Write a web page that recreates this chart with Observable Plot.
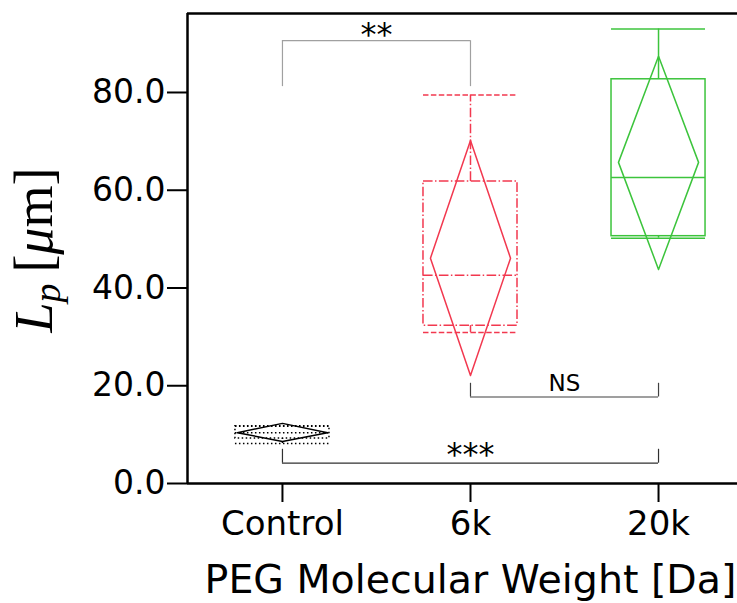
<!DOCTYPE html>
<html>
<head>
<meta charset="utf-8">
<script src="https://cdn.jsdelivr.net/npm/d3@7"></script>
<script src="https://cdn.jsdelivr.net/npm/@observablehq/plot@0.6"></script>
<style>
  html, body { margin: 0; padding: 0; background: #fff; }
  #chart { width: 737px; height: 603px; }
</style>
</head>
<body>
<div id="chart"></div>
<script>
// ---- data ----
const categories = ["Control", "6k", "20k"];
const whiskerLow  = [8.2, 30.9, 50.2];
const boxQ1       = [9.2, 32.3, 50.6];
const boxMedian   = [10.4, 42.6, 62.6];
const boxQ3       = [11.7, 61.8, 82.7];
const whiskerHigh = [11.7, 79.5, 93.0];
const meanValue   = [10.4, 46.1, 65.7];
const meanLow     = [8.6, 22.1, 43.8];
const meanHigh    = [12.3, 70.2, 87.4];
const yTicks = [0, 20, 40, 60, 80];

const bracketFrom  = [0, 1, 0];
const bracketTo    = [1, 2, 2];
const bracketY     = [90.6, 17.7, 4.15];
const bracketLegTo = [81.2, 20.5, 7.0];
const bracketLabel = ["**", "NS", "***"];

// ---- table built from arrays ----
const rows = categories.map((cat, i) => ({
  cat, i,
  lo: whiskerLow[i], q1: boxQ1[i], med: boxMedian[i], q3: boxQ3[i], hi: whiskerHigh[i],
  mean: meanValue[i], mlo: meanLow[i], mhi: meanHigh[i]
}));
const brackets = bracketLabel.map((label, k) => ({
  label, from: bracketFrom[k], to: bracketTo[k], y: bracketY[k], leg: bracketLegTo[k]
}));

// ---- styles ----
const xDomain = [-0.505, 2.42];
const yDomain = [0, 96.16];
const boxHalf = 0.25;
const style = {
  "Control": {stroke: "#000000", box: "1.5,2.5", cap: "1.5,2.5", whisker: "1.5,2.5", median: "1.5,2.5", dHalf: 0.24},
  "6k":      {stroke: "#f2384f", box: "9.6,2.4,1.5,2.4", cap: "5.5,2.4", whisker: "9.6,2.4,1.5,2.4", median: "9.6,2.4,1.5,2.4", dHalf: 0.213},
  "20k":     {stroke: "#3cc43c", box: null, cap: null, whisker: null, median: null, dHalf: 0.213}
};
const bracketStyle = [
  {stroke: "#a0a0a0", dy: -6, fontSize: 32},
  {stroke: "#404040", dy: -13, fontSize: 23},
  {stroke: "#303030", dy: -8, fontSize: 32}
];

const marks = [];
for (const r of rows) {
  const s = style[r.cat];
  const data = [r];
  const common = {stroke: s.stroke, strokeWidth: 1.5};
  marks.push(Plot.rect(data, {x1: d => d.i - boxHalf, x2: d => d.i + boxHalf, y1: "q1", y2: "q3",
    fill: "none", ...common, strokeDasharray: s.box}));
  marks.push(Plot.ruleX(data, {x: "i", y1: "q3", y2: "hi", ...common, strokeDasharray: s.whisker}));
  marks.push(Plot.ruleX(data, {x: "i", y1: "lo", y2: "q1", ...common, strokeDasharray: s.whisker}));
  marks.push(Plot.ruleY(data, {y: "hi", x1: d => d.i - boxHalf, x2: d => d.i + boxHalf, ...common, strokeDasharray: s.cap}));
  marks.push(Plot.ruleY(data, {y: "lo", x1: d => d.i - boxHalf, x2: d => d.i + boxHalf, ...common, strokeDasharray: s.cap}));
  marks.push(Plot.ruleY(data, {y: "med", x1: d => d.i - boxHalf, x2: d => d.i + boxHalf, ...common, strokeDasharray: s.median}));
  const diamond = [
    {x: r.i, y: r.mlo}, {x: r.i + s.dHalf, y: r.mean}, {x: r.i, y: r.mhi},
    {x: r.i - s.dHalf, y: r.mean}, {x: r.i, y: r.mlo}
  ];
  marks.push(Plot.line(diamond, {x: "x", y: "y", stroke: s.stroke, strokeWidth: 1.5}));
}

brackets.forEach((b, k) => {
  const bs = bracketStyle[k];
  marks.push(Plot.ruleY([b], {y: "y", x1: "from", x2: "to", stroke: bs.stroke, strokeWidth: 1.2}));
  marks.push(Plot.ruleX([b], {x: "from", y1: "y", y2: "leg", stroke: bs.stroke, strokeWidth: 1.2}));
  marks.push(Plot.ruleX([b], {x: "to", y1: "y", y2: "leg", stroke: bs.stroke, strokeWidth: 1.2}));
  marks.push(Plot.text([b], {x: d => (d.from + d.to) / 2, y: "y", text: "label",
    fontSize: bs.fontSize, dy: bs.dy, fill: "#000", lineAnchor: "middle"}));
});

// spines
marks.push(Plot.ruleX([xDomain[0]], {stroke: "#000", strokeWidth: 2.5}));
marks.push(Plot.ruleY([yDomain[1]], {stroke: "#000", strokeWidth: 2.5}));
marks.push(Plot.ruleY([yDomain[0]], {stroke: "#000", strokeWidth: 2.5}));

// axes
marks.push(Plot.axisY({ticks: yTicks, tickFormat: d => d.toFixed(1), tickSize: 20, tickPadding: 2,
  fontSize: 33, strokeWidth: 2, label: null}));
marks.push(Plot.axisX({ticks: [0, 1, 2], tickFormat: i => categories[i], tickSize: 19, tickPadding: 8,
  fontSize: 34, strokeWidth: 2, label: null}));

// x title
marks.push(Plot.text(["PEG Molecular Weight [Da]"], {frameAnchor: "bottom", dx: 8, dy: 97,
  fontSize: 39.5, fill: "#000", lineAnchor: "middle"}));

const plot = Plot.plot({
  width: 737,
  height: 603,
  marginLeft: 187,
  marginRight: 0,
  marginTop: 13,
  marginBottom: 120,
  style: {fontFamily: "'DejaVu Sans', sans-serif", background: "#fff", overflow: "visible"},
  x: {domain: xDomain},
  y: {domain: yDomain},
  marks
});

// y title with math styling
const svg = d3.select(plot);
const t = svg.append("text")
  .attr("transform", "translate(52,250) rotate(-90)")
  .attr("text-anchor", "middle")
  .attr("font-family", "'Liberation Serif', 'DejaVu Serif', serif")
  .attr("font-size", 54)
  .attr("fill", "#000");
t.append("tspan").attr("font-style", "italic").text("L");
t.append("tspan").attr("font-style", "italic").attr("font-size", 38).attr("dy", 8).text("p");
t.append("tspan").attr("dy", -8).text("\u2009[");
t.append("tspan").attr("font-style", "italic").text("\u03bc");
t.append("tspan").text("m]");

document.getElementById("chart").appendChild(plot);
</script>
</body>
</html>
